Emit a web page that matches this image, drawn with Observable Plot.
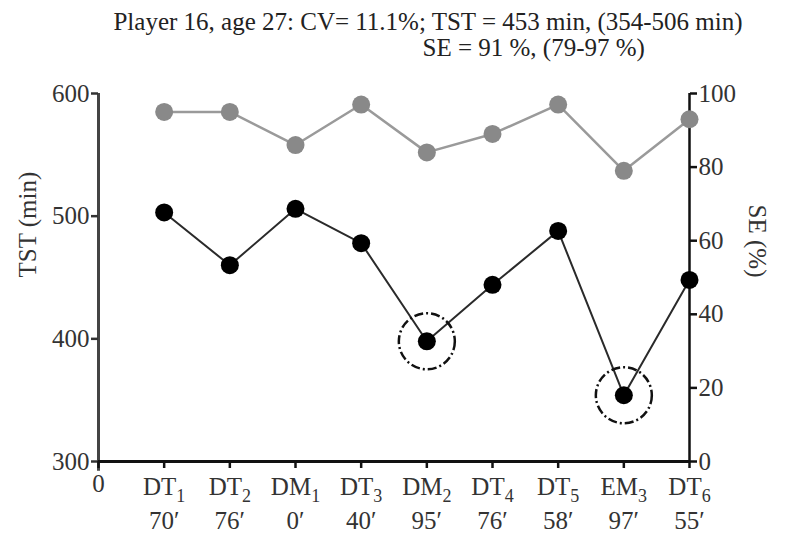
<!DOCTYPE html>
<html>
<head>
<meta charset="utf-8">
<script src="https://cdn.jsdelivr.net/npm/d3@7"></script>
<script src="https://cdn.jsdelivr.net/npm/@observablehq/plot@0.6"></script>
<style>
  html, body { margin: 0; padding: 0; background: #fff; }
  #chart svg { display: block; }
  #chart svg text { font-family: "Liberation Serif", "Times New Roman", serif; }
</style>
</head>
<body>
<div id="chart"></div>
<script>
// Sessions in order (underscore marks the subscript index)
const categories = ["DT_1", "DT_2", "DM_1", "DT_3", "DM_2", "DT_4", "DT_5", "EM_3", "DT_6"];
// Minutes played in each session
const minutesPlayed = ["70′", "76′", "0′", "40′", "95′", "76′", "58′", "97′", "55′"];
// Total sleep time (min), left axis
const tstValues = [503, 460, 506, 478, 398, 444, 488, 354, 448];
// Sleep efficiency (%), right axis
const seValues = [95, 95, 86, 97, 84, 89, 97, 79, 93];
// Sessions highlighted with a dashed ring
const highlighted = ["DM_2", "EM_3"];
// Axis ticks
const tstTicks = [300, 400, 500, 600];
const seTicks = [0, 20, 40, 60, 80, 100];
const xTicks = [0, 1, 2, 3, 4, 5, 6, 7, 8, 9];

const titleLine1 = "Player 16, age 27: CV= 11.1%; TST = 453 min, (354-506 min)";
const titleLine2 = "SE = 91 %, (79-97 %)";

// SE shares the TST scale: 0–100 % maps onto 300–600 min
const seToY = v => 300 + v * 3;
const yToSe = y => Math.round((y - 300) / 3);

const rows = categories.map((c, i) => ({
  idx: i + 1,
  cat: c,
  mins: minutesPlayed[i],
  tst: tstValues[i],
  se: seValues[i],
  seY: seToY(seValues[i])
}));

const font = "'Liberation Serif', 'Times New Roman', serif";
const ink = "#1e1e1e";

const chart = Plot.plot({
  width: 786,
  height: 534,
  marginLeft: 98,
  marginRight: 97,
  marginTop: 93,
  marginBottom: 73,
  style: { fontFamily: font, fontSize: "24px", color: ink, background: "#fff", overflow: "visible" },
  x: { domain: [0, 9], axis: null },
  y: { domain: [300, 600], axis: null },
  marks: [
    // axis lines
    Plot.ruleX([0], { y1: 292, y2: 600, stroke: "#444", strokeWidth: 3 }),
    Plot.ruleX([9], { y1: 300, y2: 600, stroke: "#111", strokeWidth: 2.5 }),
    Plot.ruleY([300], { x1: 0, x2: 9, stroke: "#111", strokeWidth: 3 }),
    // left axis (TST)
    Plot.axisY(tstTicks, {
      anchor: "left", tickSize: 7, tickPadding: 2, strokeWidth: 2.5,
      stroke: "#333", fill: "#333", fontSize: 25, label: null
    }),
    // right axis (SE)
    Plot.axisY(seTicks.map(seToY), {
      anchor: "right", tickSize: 7, tickPadding: 2, strokeWidth: 2.5,
      stroke: "#111", fill: "#333", fontSize: 25, label: null,
      tickFormat: yToSe
    }),
    // bottom axis ticks and "0"
    Plot.axisX(xTicks, {
      anchor: "bottom", tickSize: 7, tickPadding: 6, strokeWidth: 2.5,
      stroke: "#111", fill: "#333", fontSize: 25, label: null,
      tickFormat: d => (d === 0 ? "0" : "")
    }),
    // session labels and minutes
    Plot.text(rows, {
      x: "idx", text: "cat", frameAnchor: "bottom", lineAnchor: "bottom",
      dy: 33, fontSize: 25, fill: "#333"
    }),
    Plot.text(rows, {
      x: "idx", text: "mins", frameAnchor: "bottom", lineAnchor: "bottom",
      dy: 67, fontSize: 25, fill: "#333"
    }),
    // axis titles
    Plot.text(["TST (min)"], {
      text: d => d, frameAnchor: "left", rotate: -90, dx: -71, fontSize: 25, fill: "#333"
    }),
    Plot.text(["SE (%)"], {
      text: d => d, frameAnchor: "right", rotate: 90, dx: 67, fontSize: 25, fill: "#333"
    }),
    // chart title
    Plot.text([titleLine1], {
      text: d => d, frameAnchor: "top", lineAnchor: "bottom", dx: 34, dy: -64, fontSize: 25, fill: "#222"
    }),
    Plot.text([titleLine2], {
      text: d => d, frameAnchor: "top-left", textAnchor: "start", lineAnchor: "bottom",
      dx: 324, dy: -38, fontSize: 25, fill: "#222"
    }),
    // SE series (grey)
    Plot.line(rows, { x: "idx", y: "seY", stroke: "#9a9a9a", strokeWidth: 2.5 }),
    Plot.dot(rows, { x: "idx", y: "seY", r: 9, fill: "#898989" }),
    // TST series (black)
    Plot.line(rows, { x: "idx", y: "tst", stroke: "#2a2a2a", strokeWidth: 2 }),
    Plot.dot(rows, { x: "idx", y: "tst", r: 9, fill: "#000" }),
    // dashed rings around highlighted sessions
    Plot.dot(rows.filter(d => highlighted.includes(d.cat)), {
      x: "idx", y: "tst", r: 28, fill: "none", stroke: "#111",
      strokeWidth: 2.5, strokeDasharray: "9,3,2,3"
    })
  ]
});

// Turn "DT_1" style labels into a name with a subscript index
d3.select(chart).selectAll("text").each(function () {
  const t = this.textContent;
  if (!t.includes("_")) return;
  const [base, sub] = t.split("_");
  const el = d3.select(this);
  el.text(null);
  el.append("tspan").text(base);
  el.append("tspan").attr("dy", "0.4em").attr("font-size", "18px").text(sub);
});

document.getElementById("chart").appendChild(chart);
</script>
</body>
</html>
